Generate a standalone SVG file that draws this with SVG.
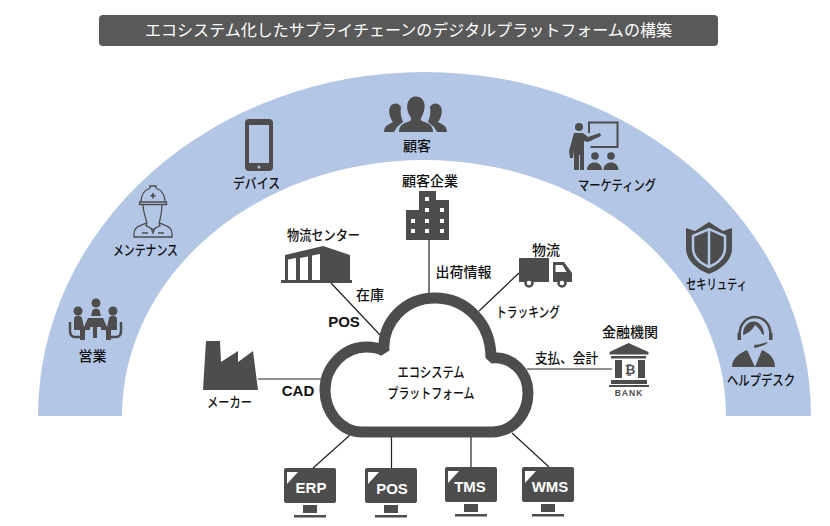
<svg xmlns="http://www.w3.org/2000/svg" width="830" height="526" viewBox="0 0 830 526">
<style>
text{font-family:"Noto Sans CJK JP","Liberation Sans",sans-serif;font-size:14px;fill:#111;text-anchor:middle;font-weight:500}
.d{fill:#4d4d4d}
.o{fill:none;stroke:#4d4d4d;stroke-width:1.300}
.b{fill:#b3c6e6}
.w{fill:#fff}
.l{stroke:#222;stroke-width:1.200;fill:none}
.m{font-family:"Liberation Sans",sans-serif;font-weight:700;font-size:15px;fill:#fff}
.e{font-family:"Liberation Sans",sans-serif;font-weight:700;font-size:15px}
</style>
<rect width="830" height="526" fill="#fff"/>
<g id="title"><rect x="99" y="15" width="619" height="31" rx="4" fill="#595959"/><text x="408.500" y="35.500" textLength="527" lengthAdjust="spacingAndGlyphs" style="fill:#fff;font-size:16px;font-weight:400">エコシステム化したサプライチェーンのデジタルプラットフォームの構築</text></g>
<path id="arc" d="M38 416A386.500 344 0 0 1 811 416H726A302 256 0 0 0 122 416Z" fill="#b3c6e6"/>
<g id="connectors" class="l">
<path d="M429 240V298M331 283L380 335M519 273L479 311M258 379H325M527 369H612M350 435L312 469M391.500 435V468M471 435V467M512 433L549 467"/>
</g>
<g id="cloud"><path d="M491 358C512 356 528 372 528 393C528 415 512 432 492 432H362C341 432 325 412 325 390C325 366 345 347 366 347C373 347 379 348 384 351C382 322 405 298 435 298C465 298 491 322 491 358Z" fill="#fff" stroke="#4d4d4d" stroke-width="11" stroke-linejoin="bevel"/><text x="431" y="377" textLength="67" lengthAdjust="spacingAndGlyphs">エコシステム</text><text x="431" y="398" textLength="87" lengthAdjust="spacingAndGlyphs">プラットフォーム</text></g>
<g id="sales"><circle cx="78" cy="311" r="4.500" class="d"/><circle cx="96" cy="303" r="4.500" class="d"/><circle cx="113" cy="311" r="4.500" class="d"/><path class="d" d="M91 316l1.500-6q3.500-3 7 0l1.500 6ZM88 318h15l4 9h-23ZM93 327h4v11h-4ZM74 319c0-4 7-4 8-1l2 9h6v3h-5v10h-5v-10h-6ZM117 319c0-4-7-4-8-1l-2 9h-6v3h5v10h5v-10h6Z"/><path d="M70 322v9c0 4 2 6 5 6h8M121 322v9c0 4-2 6-5 6h-8" fill="none" stroke="#4d4d4d" stroke-width="2.500"/><text x="92.500" y="361">営業</text></g>
<g id="maintenance"><path class="o" d="M141 202c0-8 4-12 9-14v-2h6v2c5 2 9 6 9 14M139.500 202h27v2.500h-27ZM143 204.500c0 7 2 11 3 15 1 3 1 5 0 6l7 4 7-4c-1-1-1-3 0-6 1-4 2-8 2-15M146 223c-5 3-12 3-12 11v3h38v-3c0-8-7-8-12-11M148 233h-6M158 233h6M151 228l2 5 2-5"/><path class="d" d="M152.200 193h1.600v2h2v1.600h-2v2h-1.600v-2h-2v-1.600h2Z"/><text x="145.500" y="255" textLength="65" lengthAdjust="spacingAndGlyphs">メンテナンス</text></g>
<g id="device"><rect x="245" y="119" width="28" height="52" rx="4" class="d"/><rect x="249" y="125" width="20" height="38" class="b"/><circle cx="259" cy="167" r="1.500" class="b"/><text x="256.500" y="188" textLength="47" lengthAdjust="spacingAndGlyphs">デバイス</text></g>
<g id="customer"><path class="d" d="M384 132c0-7 6-8 9-10-3-4-5-10-3-15 3-5 9-4 11 0-1 5 0 10 2 15l-6 5-3 5ZM447 132c0-7-6-8-9-10 3-4 5-10 3-15-3-5-9-4-11 0 1 5 0 10-2 15l6 5 3 5ZM399 132c0-8 6-9 11-11 2-1 1-3 0-5-4-6-4-14 1-18 3-2 8-2 11 1 4 4 3 11 0 17-1 2-2 4 0 5 5 2 11 3 11 11Z"/><text x="417" y="151">顧客</text></g>
<g id="marketing"><path d="M589 133v-10.500h28.500v24.500h-27" fill="none" stroke="#4d4d4d" stroke-width="2"/><circle cx="579" cy="127" r="4" class="d"/><path class="d" d="M574 133h9l5 4 12-4 1 3-13 6-4-1v29h-4v-15h-1v15h-5v-20l-1 8h-3l-1-7Z"/><circle cx="595" cy="156" r="3.800" class="d"/><circle cx="611" cy="156" r="3.800" class="d"/><path class="d" d="M587 170c0-10 15-10 15 0ZM603.500 170c0-10 15-10 15 0Z"/><text x="617" y="190" textLength="78" lengthAdjust="spacingAndGlyphs">マーケティング</text></g>
<g id="security"><path class="d" d="M686 228l9 3 14-9 14 9 9-3v20c0 14-13 22-23 26-10-4-23-12-23-26Z"/><path d="M693 236l16-7 16 7v12c0 10-9 16-16 19-7-3-16-9-16-19Z" fill="none" stroke="#b3c6e6" stroke-width="2.500"/><path d="M709 229v38" stroke="#b3c6e6" stroke-width="2.500"/><text x="716.500" y="289" textLength="61" lengthAdjust="spacingAndGlyphs">セキリュティ</text></g>
<g id="helpdesk"><path d="M739.500 335c0-24 31-24 31 0" fill="none" stroke="#4d4d4d" stroke-width="2.500"/><path class="d" d="M737.500 333h3.500v7h-3.500ZM769 333h3.500v7h-3.500ZM743 335c0-18 21-18 21 0l-2-1c-1-3-4-7-7-9-2 4-6 8-12 10ZM754 345c4 0 8-1 13-3l.5 1c-4 3-9 4-13 5ZM732 367c0-9 8-14 15-17l8 17 7-17c7 3 13 8 13 17Z"/><text x="761" y="385" textLength="68" lengthAdjust="spacingAndGlyphs">ヘルプデスク</text></g>
<g id="dc"><path class="d" d="M285 255l38-9 27 9v25h-30V254l-8 1.500V281h-4V256.500l-8 1.500V281h-4V258l-8 1.500V281h-3ZM281 280h71v3h-71Z"/><text x="323.500" y="240" textLength="73" lengthAdjust="spacingAndGlyphs">物流センター</text></g>
<g id="client"><path class="d" d="M406 240V210H419V191H436V200H449V240Z"/><g class="w"><rect x="425" y="197" width="4" height="4"/><rect x="425" y="208" width="4" height="4"/><rect x="440" y="208" width="4" height="4"/><rect x="411" y="219" width="4" height="4"/><rect x="425" y="219" width="4" height="4"/><rect x="440" y="219" width="4" height="4"/><rect x="411" y="229" width="4" height="4"/><rect x="425" y="229" width="4" height="4"/><rect x="440" y="229" width="4" height="4"/></g><text x="430" y="186">顧客企業</text></g>
<g id="truck"><path class="d" d="M519 258h30v24h-30ZM553 262h11l8 11v9h-19Z"/><path d="M555.500 265h7l4 7h-11Z" class="w"/><circle cx="529" cy="283" r="3.500" class="w" stroke="#4d4d4d" stroke-width="2.500"/><circle cx="562" cy="283" r="3.500" class="w" stroke="#4d4d4d" stroke-width="2.500"/><text x="546" y="255">物流</text></g>
<g id="bank"><path class="d" d="M628.500 343l20 9v2.500h-39V352ZM611 356h35v2.500h-35ZM615 360h7v18h-7ZM638 360h7v18h-7ZM611 380h36v4h-36ZM609 385h40v2h-40Z"/><text x="630" y="374" style="font-family:'DejaVu Sans',sans-serif;font-weight:700;font-size:13px;fill:#4d4d4d">₿</text><text x="629" y="396" style="font-family:'Liberation Sans',sans-serif;font-weight:700;font-size:8.500px;fill:#4d4d4d;letter-spacing:1px">BANK</text><text x="630" y="337">金融機関</text></g>
<g id="maker"><path class="d" d="M203 390L206 341H220L221 362L238 351V362L253 351L258 390Z"/><text x="229.500" y="407" textLength="45" lengthAdjust="spacingAndGlyphs">メーカー</text></g>
<g id="erp"><rect x="284" y="468" width="52" height="35" rx="2" class="d"/><path d="M287 472h11l-11 12Z" class="w"/><path class="d" d="M303 505h14v8h-14ZM294 515h32v2.500h-32Z"/><text class="m" x="311" y="493">ERP</text></g>
<g id="pos"><rect x="365" y="468" width="52" height="35" rx="2" class="d"/><path d="M368 472h11l-11 12Z" class="w"/><path class="d" d="M384 505h14v8h-14ZM375 515h32v2.500h-32Z"/><text class="m" x="392" y="494">POS</text></g>
<g id="tms"><rect x="445" y="467" width="52" height="35" rx="2" class="d"/><path d="M448 471h11l-11 12Z" class="w"/><path class="d" d="M464 504h14v8h-14ZM455 514h32v2.500h-32Z"/><text class="m" x="470" y="492">TMS</text></g>
<g id="wms"><rect x="522" y="467" width="52" height="35" rx="2" class="d"/><path d="M525 471h11l-11 12Z" class="w"/><path class="d" d="M541 504h14v8h-14ZM532 514h32v2.500h-32Z"/><text class="m" x="550" y="492">WMS</text></g>
<g id="labels"><text x="370" y="300">在庫</text><text class="e" x="344" y="327">POS</text><text class="e" x="298" y="396">CAD</text><text x="463.500" y="277">出荷情報</text><text x="528" y="317" textLength="64" lengthAdjust="spacingAndGlyphs">トラッキング</text><text x="566.500" y="363" textLength="63" lengthAdjust="spacingAndGlyphs">支払、会計</text></g>
</svg>
